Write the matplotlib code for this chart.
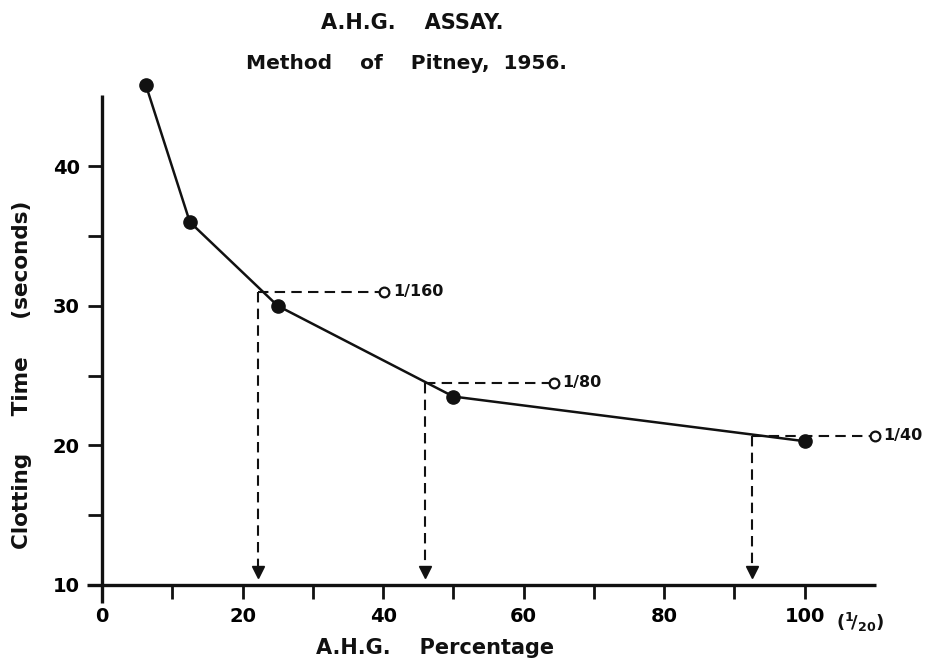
import matplotlib.pyplot as plt
from matplotlib.ticker import FixedLocator

plt.rcParams['font.family'] = ['DejaVu Sans']
plt.rcParams['font.weight'] = 'bold'
plt.rcParams['mathtext.fontset'] = 'custom'
plt.rcParams['mathtext.rm'] = 'DejaVu Sans:bold'
plt.rcParams['mathtext.it'] = 'DejaVu Sans:bold'

# standard curve: percentage of A.H.G. vs clotting time
pct = [6.25, 12.5, 25, 50, 100]
clot_time = [45.8, 36.0, 30.0, 23.5, 20.3]

# test plasma dilutions read back off the curve
test_labels = ['1/160', '1/80', '1/40']
test_time = [31.0, 24.5, 20.7]
test_pct = [22.2, 45.9, 92.5]
test_marker_x = [40.2, 64.3, 110.0]

x_major = [0, 20, 40, 60, 80, 100]
x_minor = [10, 30, 50, 70, 90]
y_major = [10, 20, 30, 40]
y_minor = [15, 25, 35]

fig = plt.figure(figsize=(9.27, 6.66), dpi=100)
ax = fig.add_axes([102 / 927, 1 - 585 / 666, 773 / 927, 490 / 666])
ax.set_xlim(0, 110)
ax.set_ylim(10, 45.1)

ink = '#111111'
lw_axis = 2.4

# axis lines that overshoot at the origin
for s in ax.spines.values():
    s.set_visible(False)
ax.plot([0, 0], [8.7, 45.1], color=ink, lw=lw_axis, clip_on=False, solid_capstyle='butt')
ax.plot([-2.1, 110.2], [10, 10], color=ink, lw=lw_axis, clip_on=False, solid_capstyle='butt')

ax.xaxis.set_major_locator(FixedLocator(x_major))
ax.xaxis.set_minor_locator(FixedLocator(x_minor))
ax.yaxis.set_major_locator(FixedLocator(y_major))
ax.yaxis.set_minor_locator(FixedLocator(y_minor))
ax.tick_params(which='both', direction='out', length=10, width=2, color=ink,
               labelsize=14, pad=6)
for lab in ax.get_xticklabels() + ax.get_yticklabels():
    lab.set_fontweight('bold')

# dashed read-offs
dash = (5, 3)
for tx, tt, mx, lab in zip(test_pct, test_time, test_marker_x, test_labels):
    ax.plot([tx, mx], [tt, tt], color=ink, lw=1.5, dashes=dash, clip_on=False)
    ax.plot([tx, tx], [tt, 11.0], color=ink, lw=1.5, dashes=dash)
    ax.plot(tx, 10.9, marker='v', ms=8, color=ink, mec=ink)
    ax.plot(mx, tt, 'o', ms=7, mfc='white', mec=ink, mew=1.6, clip_on=False, zorder=5)
    ax.text(mx + 1.2, tt, lab, fontsize=11.5, fontweight='bold', va='center', ha='left',
            color=ink)

ax.plot(pct, clot_time, '-', color=ink, lw=1.8, marker='o', ms=9.5, mfc=ink, mec=ink,
        clip_on=False, zorder=4)

ax.text(104.5, 8.15, r'$(^{1}\!/_{20})$', fontsize=13, ha='left', va='top', color=ink)

fig.text(0.445, 0.965, 'A.H.G.    ASSAY.', fontsize=15, fontweight='bold',
         ha='center', va='center', color=ink)
fig.text(0.438, 0.905, 'Method    of    Pitney,  1956.', fontsize=14.5, fontweight='bold',
         ha='center', va='center', color=ink)
fig.text(0.469, 0.027, 'A.H.G.    Percentage', fontsize=15, fontweight='bold',
         ha='center', va='center', color=ink)
fig.text(0.024, 0.437, 'Clotting     Time     (seconds)', fontsize=15.5, fontweight='bold',
         rotation=90, ha='center', va='center', color=ink)

fig.savefig('out.png', dpi=100)
